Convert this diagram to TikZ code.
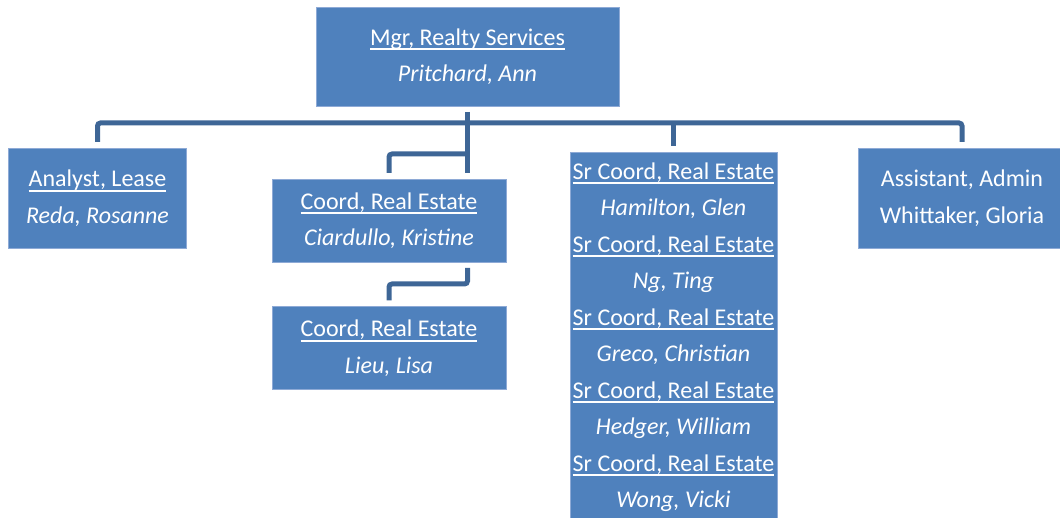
\documentclass[tikz,border=0pt]{standalone}
\usepackage{fontspec}
\setmainfont{Carlito}
\usetikzlibrary{positioning,calc}
\definecolor{orgblue}{HTML}{4F81BD}
\definecolor{orgedge}{HTML}{8EAAD6}
\definecolor{orglink}{HTML}{3E6696}
\newcommand\orgul[1]{\setbox0\hbox{#1}\rlap{\rule[-5pt]{\wd0}{1.7pt}}\box0}
\tikzset{
  orgbox/.style = {fill=orgblue, draw=orgedge, line width=0.8pt, inner sep=0pt,
                   outer sep=6pt, text=white, align=center,
                   font=\fontsize{24}{36.5}\selectfont},
  link/.style   = {draw=orglink, line width=5pt, rounded corners=3pt},
}
\begin{document}
\begin{tikzpicture}[x=1pt,y=-1pt]
  \clip (0,0) rectangle (1060,518);
  \node[orgbox, minimum width=303pt, minimum height=99pt] (mgr) at (467.5,56.5)
    {\orgul{Mgr, Realty Services}\\\textit{Pritchard, Ann}};
  \node[orgbox, minimum width=178pt, minimum height=100pt] (ana) at (97.5,198)
    {\orgul{Analyst, Lease}\\\textit{Reda, Rosanne}};
  \node[orgbox, minimum width=234pt, minimum height=83pt] (coord) at (389,220.5)
    {\orgul{Coord, Real Estate}\\\textit{Ciardullo, Kristine}};
  \node[orgbox, minimum width=234pt, minimum height=83pt] (lieu) at (389,348)
    {\orgul{Coord, Real Estate}\\\textit{Lieu, Lisa}};
  \node[orgbox, minimum width=207pt, minimum height=370pt] (sr) at (673.5,337)
    {\orgul{Sr Coord, Real Estate}\\\textit{Hamilton, Glen}\\
     \orgul{Sr Coord, Real Estate}\\\textit{Ng, Ting}\\
     \orgul{Sr Coord, Real Estate}\\\textit{Greco, Christian}\\
     \orgul{Sr Coord, Real Estate}\\\textit{Hedger, William}\\
     \orgul{Sr Coord, Real Estate}\\\textit{Wong, Vicki}};
  \node[orgbox, minimum width=208pt, minimum height=100pt] (asst) at (962,198)
    {Assistant, Admin\\Whittaker, Gloria};
  % connectors
  \coordinate (bus) at (mgr.south |- 0,123);
  \coordinate (cj) at (mgr.south |- 0,154);
  \coordinate (lj) at (cj |- 0,284);
  \draw[link] (ana.north) |- (bus) -| (asst.north);
  \draw[link] (sr.north) -- (sr.north |- bus);
  \draw[link] (mgr.south) -- (mgr.south |- coord.north);
  \draw[link] (cj) -| (coord.north);
  \draw[link] (cj |- coord.south) -- (lj) -| (lieu.north);
\end{tikzpicture}
\end{document}
